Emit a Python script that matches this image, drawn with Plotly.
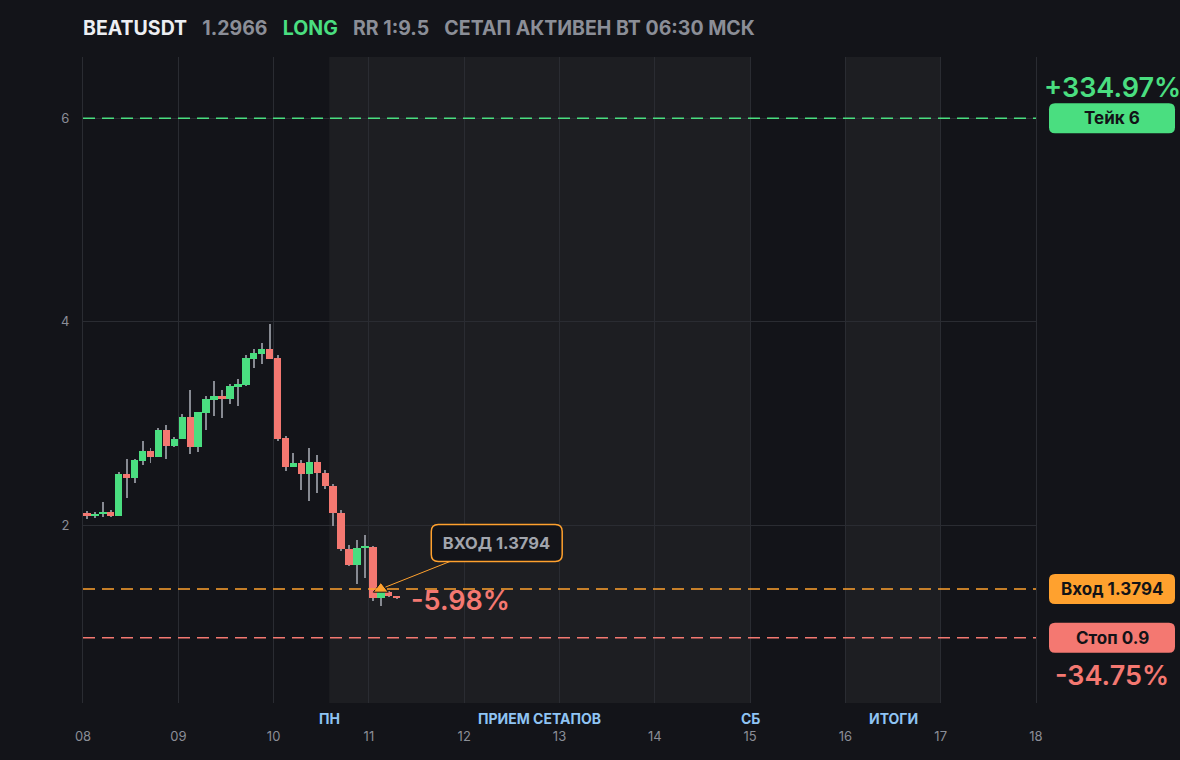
"""BEATUSDT setup card: 2h candles with take / entry / stop levels."""

import pandas as pd
import plotly.graph_objects as go

# ---- data ---------------------------------------------------------------
symbol = "BEATUSDT"
last_price = 1.2966
side = "LONG"
rr_text = "RR 1:9.5"
status_text = "СЕТАП АКТИВЕН ВТ 06:30 МСК"

candle_start = "2025-12-08 01:00"
opens = [2.12, 2.10, 2.112, 2.137, 2.091, 2.51, 2.464, 2.64, 2.735, 2.67,
         2.94, 2.787, 2.85, 3.069, 2.77, 3.108, 3.235, 3.275, 3.245, 3.363,
         3.382, 3.637, 3.686, 3.735, 3.647, 2.863, 2.572, 2.618, 2.503, 2.627,
         2.52, 2.392, 2.127, 1.775, 1.611, 1.784, 1.794, 1.287, 1.345, 1.31]
highs = [2.147, 2.134, 2.235, 2.157, 2.53, 2.657, 2.657, 2.833, 2.765, 2.96,
         2.99, 2.873, 3.098, 3.333, 3.118, 3.275, 3.42, 3.333, 3.39, 3.44,
         3.676, 3.735, 3.794, 3.98, 3.676, 2.88, 2.716, 2.647, 2.765, 2.696,
         2.55, 2.41, 2.157, 1.814, 1.863, 1.905, 1.80, 1.37, 1.36, 1.315]
lows = [2.062, 2.078, 2.081, 2.09, 2.091, 2.268, 2.42, 2.60, 2.62, 2.67,
        2.65, 2.77, 2.85, 2.70, 2.725, 2.94, 3.08, 3.06, 3.196, 3.176,
        3.373, 3.549, 3.59, 3.637, 2.83, 2.54, 2.572, 2.346, 2.24, 2.32,
        2.36, 1.995, 1.75, 1.60, 1.425, 1.49, 1.258, 1.21, 1.30, 1.285]
closes = [2.10, 2.118, 2.137, 2.091, 2.51, 2.464, 2.647, 2.735, 2.67, 2.94,
          2.787, 2.853, 3.069, 2.77, 3.118, 3.245, 3.275, 3.245, 3.373, 3.392,
          3.647, 3.696, 3.735, 3.637, 2.853, 2.572, 2.618, 2.503, 2.627, 2.513,
          2.385, 2.121, 1.767, 1.611, 1.784, 1.794, 1.287, 1.345, 1.307, 1.2966]

take_price = 6
entry_price = 1.3794
stop_price = 0.9
entry_time = "2025-12-11 03:00"
take_pct = "+334.97%"
stop_pct = "-34.75%"
current_pct = "-5.98%"

level_prices = [take_price, entry_price, stop_price]
level_names = ["Тейк 6", "Вход 1.3794", "Стоп 0.9"]

band_starts = ["2025-12-10 14:00", "2025-12-16 00:00"]
band_ends = ["2025-12-15 00:00", "2025-12-17 00:00"]
session_labels = ["ПН", "ПРИЕМ СЕТАПОВ", "СБ", "ИТОГИ"]
session_times = ["2025-12-10 14:00", "2025-12-12 19:00",
                 "2025-12-15 00:00", "2025-12-16 12:00"]

x_range = ["2025-12-08", "2025-12-18"]
y_range = [0.26, 6.6]
y_ticks = [2, 4, 6]

# ---- style --------------------------------------------------------------
BG = "#131419"
BAND = "#1d1e22"
GRID = "#2a2c32"
TEXT = "#8b8e97"
GREEN = "#4ade80"
RED = "#f47871"
ORANGE = "#ffa12e"
WICK = "#878a92"
FONT = "Inter, Roboto, sans-serif"

W, H = 1180, 760
M = dict(l=83, r=144, t=57, b=57)
PLOT_W = W - M["l"] - M["r"]
PLOT_H = H - M["t"] - M["b"]
Y_PER_PX = (y_range[1] - y_range[0]) / PLOT_H
MS_PER_PX = (pd.Timestamp(x_range[1]) - pd.Timestamp(x_range[0])) / PLOT_W

times = pd.date_range(candle_start, periods=len(opens), freq="2h")
body_lo = [min(o, c) for o, c in zip(opens, closes)]
body_h = [abs(c - o) for o, c in zip(opens, closes)]
colors = [GREEN if c >= o else RED for o, c in zip(opens, closes)]


def box_path(x0, x1, y0, y1, rx, ry, fmt):
    """Rounded rectangle as an SVG path."""
    segs = [
        ("M", [(x0 + rx, y0)]),
        ("L", [(x1 - rx, y0)]),
        ("Q", [(x1, y0), (x1, y0 + ry)]),
        ("L", [(x1, y1 - ry)]),
        ("Q", [(x1, y1), (x1 - rx, y1)]),
        ("L", [(x0 + rx, y1)]),
        ("Q", [(x0, y1), (x0, y1 - ry)]),
        ("L", [(x0, y0 + ry)]),
        ("Q", [(x0, y0), (x0 + rx, y0)]),
    ]
    parts = []
    for cmd, pts in segs:
        parts.append(cmd + " " + " ".join(f"{fmt(x)},{y:.5f}" for x, y in pts))
    return " ".join(parts) + " Z"


def paper_fmt(v):
    return f"{v:.5f}"


def date_fmt(v):
    return pd.Timestamp(v).strftime("%Y-%m-%d_%H:%M:%S")


fig = go.Figure()

# wicks first, bodies on top
fig.add_trace(go.Bar(
    x=times, y=[h - l for h, l in zip(highs, lows)], base=lows,
    width=1.0 * MS_PER_PX.total_seconds() * 1000,
    marker=dict(color=WICK, line=dict(width=0)),
    hoverinfo="skip",
))
fig.add_trace(go.Bar(
    x=times, y=body_h, base=body_lo,
    width=7.4 * MS_PER_PX.total_seconds() * 1000,
    marker=dict(color=colors, line=dict(width=0)),
    hoverinfo="skip",
))

# entry marker
fig.add_trace(go.Scatter(
    x=[entry_time], y=[entry_price], mode="markers",
    marker=dict(symbol="triangle-up", size=13, color=ORANGE,
                line=dict(color=BG, width=1)),
    hoverinfo="skip",
))

# session bands
for x0, x1 in zip(band_starts, band_ends):
    fig.add_vrect(x0=x0, x1=x1, fillcolor=BAND, line_width=0, layer="below")

for name, t in zip(session_labels, session_times):
    fig.add_annotation(
        x=t, y=0, xref="x", yref="paper", yanchor="top", yshift=-5,
        text=f"<b>{name}</b>", showarrow=False,
        font=dict(family=FONT, size=14, color="#8fc4f4"),
    )

# price levels
level_colors = [GREEN, ORANGE, RED]
bx0 = 1 + 13 / PLOT_W
bx1 = 1 + 139 / PLOT_W
label_x = (bx0 + bx1) / 2
for price, name, col in zip(level_prices, level_names, level_colors):
    fig.add_hline(y=price, layer="above",
                  line=dict(color=col, width=1.5, dash="12px,7px"))
    half = 15 * Y_PER_PX
    fig.add_shape(
        type="path", xref="paper", yref="y", layer="above",
        path=box_path(bx0, bx1, price - half, price + half,
                      6 / PLOT_W, 6 * Y_PER_PX, paper_fmt),
        fillcolor=col, line=dict(width=0),
    )
    fig.add_annotation(
        x=label_x, y=price, xref="paper", yref="y", xanchor="center",
        text=f"<b>{name}</b>", showarrow=False,
        font=dict(family=FONT, size=17, color="#121317"),
    )

fig.add_annotation(x=label_x, y=take_price, xref="paper", yref="y",
                   xanchor="center", yshift=31, text=take_pct, showarrow=False,
                   font=dict(family=FONT, size=27, color=GREEN, weight=600))
fig.add_annotation(x=label_x, y=stop_price, xref="paper", yref="y",
                   xanchor="center", yshift=-38, text=stop_pct, showarrow=False,
                   font=dict(family=FONT, size=27, color=RED, weight=600))

# current move from entry, next to the last candle
fig.add_annotation(x=times[-1], y=closes[-1], xanchor="left", xshift=12,
                   yshift=-3, text=current_pct, showarrow=False,
                   font=dict(family=FONT, size=27, color=RED, weight=600))

# entry callout box with a rounded border
box_cx = pd.Timestamp(entry_time) + 116 * MS_PER_PX
box_cy = entry_price + 46 * Y_PER_PX
hw = 65.5 * MS_PER_PX
hh = 18.5 * Y_PER_PX
fig.add_shape(
    type="path", xref="x", yref="y", layer="above",
    path=box_path(box_cx - hw, box_cx + hw, box_cy - hh, box_cy + hh,
                  pd.Timedelta(7 * MS_PER_PX), 7 * Y_PER_PX, date_fmt),
    fillcolor=BG, line=dict(color=ORANGE, width=1.5),
)
fig.add_annotation(
    x=entry_time, y=entry_price, axref="x", ayref="y",
    ax=box_cx.strftime("%Y-%m-%d %H:%M:%S"), ay=box_cy,
    text=f"<b>ВХОД {entry_price}</b>", width=115, height=21, borderpad=8,
    borderwidth=0, showarrow=True, arrowhead=0, arrowwidth=1,
    arrowcolor=ORANGE, standoff=5,
    font=dict(family=FONT, size=16.5, color="#a2a5ad"),
)

sp = "\u2002\u00a0"  # en space + nbsp between title parts
title = (
    f"<b>{symbol}</b>{sp}"
    f"<span style='color:{TEXT}'><b>{last_price}</b></span>{sp}"
    f"<span style='color:{GREEN}'><b>{side}</b></span>{sp}"
    f"<span style='color:{TEXT}'><b>{rr_text}</b></span>{sp}"
    f"<span style='color:{TEXT}'><b>{status_text}</b></span>"
)

fig.update_layout(
    width=W, height=H, margin=M,
    paper_bgcolor=BG, plot_bgcolor=BG,
    barmode="overlay", bargap=0, showlegend=False,
    font=dict(family=FONT, color=TEXT, size=13),
    title=dict(text=title, x=0, xref="paper", xanchor="left",
               y=1 - 28 / H, yref="container", yanchor="middle",
               font=dict(family=FONT, size=19.5, color="#eceef2")),
    xaxis=dict(type="date", range=x_range, tick0=x_range[0], dtick=86400000,
               tickformat="%d", showgrid=True, gridcolor=GRID, gridwidth=1,
               zeroline=False, showline=False, ticks="",
               ticklabelstandoff=24, tickfont=dict(size=13, color=TEXT)),
    yaxis=dict(range=y_range, tickvals=y_ticks, showgrid=True, gridcolor=GRID,
               gridwidth=1, zeroline=False, showline=True, linecolor=GRID,
               linewidth=1, mirror=True, ticks="",
               ticklabelstandoff=10, tickfont=dict(size=13, color=TEXT)),
)

fig.write_html(
    "out.html",
    config={"displayModeBar": False},
    post_script="document.body.style.margin='0';"
                "document.body.style.background='" + BG + "';",
)
